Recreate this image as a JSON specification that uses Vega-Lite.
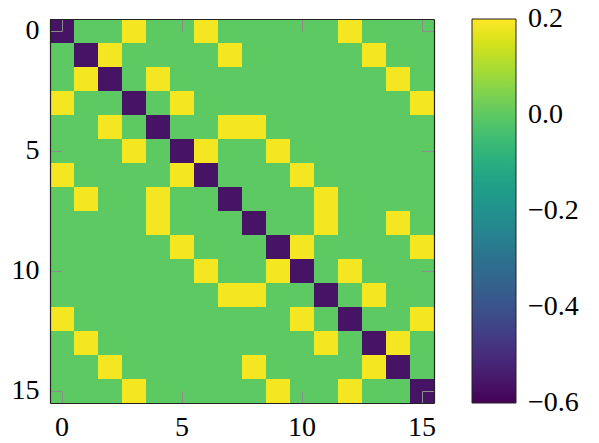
{
  "$schema": "https://vega.github.io/schema/vega-lite/v6.json",
  "width": 384,
  "height": 384,
  "autosize": {"type": "none"},
  "padding": {"left": 50, "top": 19, "right": 165, "bottom": 40},
  "background": "white",
  "config": {
    "view": {"stroke": null},
    "font": "Liberation Serif",
    "axis": {
      "labelFont": "Liberation Serif",
      "labelFontSize": 28,
      "labelColor": "#000",
      "tickColor": "#8c8c8c",
      "tickWidth": 1,
      "tickSize": -12,
      "domainColor": "#222",
      "domainWidth": 1.2,
      "grid": false,
      "title": null
    }
  },
  "data": {"values": [
    {"r":0,"c":0,"v":-0.5625},{"r":0,"c":1,"v":0},{"r":0,"c":2,"v":0},{"r":0,"c":3,"v":0.1875},{"r":0,"c":4,"v":0},{"r":0,"c":5,"v":0},{"r":0,"c":6,"v":0.1875},{"r":0,"c":7,"v":0},{"r":0,"c":8,"v":0},{"r":0,"c":9,"v":0},{"r":0,"c":10,"v":0},{"r":0,"c":11,"v":0},{"r":0,"c":12,"v":0.1875},{"r":0,"c":13,"v":0},{"r":0,"c":14,"v":0},{"r":0,"c":15,"v":0},
    {"r":1,"c":0,"v":0},{"r":1,"c":1,"v":-0.5625},{"r":1,"c":2,"v":0.1875},{"r":1,"c":3,"v":0},{"r":1,"c":4,"v":0},{"r":1,"c":5,"v":0},{"r":1,"c":6,"v":0},{"r":1,"c":7,"v":0.1875},{"r":1,"c":8,"v":0},{"r":1,"c":9,"v":0},{"r":1,"c":10,"v":0},{"r":1,"c":11,"v":0},{"r":1,"c":12,"v":0},{"r":1,"c":13,"v":0.1875},{"r":1,"c":14,"v":0},{"r":1,"c":15,"v":0},
    {"r":2,"c":0,"v":0},{"r":2,"c":1,"v":0.1875},{"r":2,"c":2,"v":-0.5625},{"r":2,"c":3,"v":0},{"r":2,"c":4,"v":0.1875},{"r":2,"c":5,"v":0},{"r":2,"c":6,"v":0},{"r":2,"c":7,"v":0},{"r":2,"c":8,"v":0},{"r":2,"c":9,"v":0},{"r":2,"c":10,"v":0},{"r":2,"c":11,"v":0},{"r":2,"c":12,"v":0},{"r":2,"c":13,"v":0},{"r":2,"c":14,"v":0.1875},{"r":2,"c":15,"v":0},
    {"r":3,"c":0,"v":0.1875},{"r":3,"c":1,"v":0},{"r":3,"c":2,"v":0},{"r":3,"c":3,"v":-0.5625},{"r":3,"c":4,"v":0},{"r":3,"c":5,"v":0.1875},{"r":3,"c":6,"v":0},{"r":3,"c":7,"v":0},{"r":3,"c":8,"v":0},{"r":3,"c":9,"v":0},{"r":3,"c":10,"v":0},{"r":3,"c":11,"v":0},{"r":3,"c":12,"v":0},{"r":3,"c":13,"v":0},{"r":3,"c":14,"v":0},{"r":3,"c":15,"v":0.1875},
    {"r":4,"c":0,"v":0},{"r":4,"c":1,"v":0},{"r":4,"c":2,"v":0.1875},{"r":4,"c":3,"v":0},{"r":4,"c":4,"v":-0.5625},{"r":4,"c":5,"v":0},{"r":4,"c":6,"v":0},{"r":4,"c":7,"v":0.1875},{"r":4,"c":8,"v":0.1875},{"r":4,"c":9,"v":0},{"r":4,"c":10,"v":0},{"r":4,"c":11,"v":0},{"r":4,"c":12,"v":0},{"r":4,"c":13,"v":0},{"r":4,"c":14,"v":0},{"r":4,"c":15,"v":0},
    {"r":5,"c":0,"v":0},{"r":5,"c":1,"v":0},{"r":5,"c":2,"v":0},{"r":5,"c":3,"v":0.1875},{"r":5,"c":4,"v":0},{"r":5,"c":5,"v":-0.5625},{"r":5,"c":6,"v":0.1875},{"r":5,"c":7,"v":0},{"r":5,"c":8,"v":0},{"r":5,"c":9,"v":0.1875},{"r":5,"c":10,"v":0},{"r":5,"c":11,"v":0},{"r":5,"c":12,"v":0},{"r":5,"c":13,"v":0},{"r":5,"c":14,"v":0},{"r":5,"c":15,"v":0},
    {"r":6,"c":0,"v":0.1875},{"r":6,"c":1,"v":0},{"r":6,"c":2,"v":0},{"r":6,"c":3,"v":0},{"r":6,"c":4,"v":0},{"r":6,"c":5,"v":0.1875},{"r":6,"c":6,"v":-0.5625},{"r":6,"c":7,"v":0},{"r":6,"c":8,"v":0},{"r":6,"c":9,"v":0},{"r":6,"c":10,"v":0.1875},{"r":6,"c":11,"v":0},{"r":6,"c":12,"v":0},{"r":6,"c":13,"v":0},{"r":6,"c":14,"v":0},{"r":6,"c":15,"v":0},
    {"r":7,"c":0,"v":0},{"r":7,"c":1,"v":0.1875},{"r":7,"c":2,"v":0},{"r":7,"c":3,"v":0},{"r":7,"c":4,"v":0.1875},{"r":7,"c":5,"v":0},{"r":7,"c":6,"v":0},{"r":7,"c":7,"v":-0.5625},{"r":7,"c":8,"v":0},{"r":7,"c":9,"v":0},{"r":7,"c":10,"v":0},{"r":7,"c":11,"v":0.1875},{"r":7,"c":12,"v":0},{"r":7,"c":13,"v":0},{"r":7,"c":14,"v":0},{"r":7,"c":15,"v":0},
    {"r":8,"c":0,"v":0},{"r":8,"c":1,"v":0},{"r":8,"c":2,"v":0},{"r":8,"c":3,"v":0},{"r":8,"c":4,"v":0.1875},{"r":8,"c":5,"v":0},{"r":8,"c":6,"v":0},{"r":8,"c":7,"v":0},{"r":8,"c":8,"v":-0.5625},{"r":8,"c":9,"v":0},{"r":8,"c":10,"v":0},{"r":8,"c":11,"v":0.1875},{"r":8,"c":12,"v":0},{"r":8,"c":13,"v":0},{"r":8,"c":14,"v":0.1875},{"r":8,"c":15,"v":0},
    {"r":9,"c":0,"v":0},{"r":9,"c":1,"v":0},{"r":9,"c":2,"v":0},{"r":9,"c":3,"v":0},{"r":9,"c":4,"v":0},{"r":9,"c":5,"v":0.1875},{"r":9,"c":6,"v":0},{"r":9,"c":7,"v":0},{"r":9,"c":8,"v":0},{"r":9,"c":9,"v":-0.5625},{"r":9,"c":10,"v":0.1875},{"r":9,"c":11,"v":0},{"r":9,"c":12,"v":0},{"r":9,"c":13,"v":0},{"r":9,"c":14,"v":0},{"r":9,"c":15,"v":0.1875},
    {"r":10,"c":0,"v":0},{"r":10,"c":1,"v":0},{"r":10,"c":2,"v":0},{"r":10,"c":3,"v":0},{"r":10,"c":4,"v":0},{"r":10,"c":5,"v":0},{"r":10,"c":6,"v":0.1875},{"r":10,"c":7,"v":0},{"r":10,"c":8,"v":0},{"r":10,"c":9,"v":0.1875},{"r":10,"c":10,"v":-0.5625},{"r":10,"c":11,"v":0},{"r":10,"c":12,"v":0.1875},{"r":10,"c":13,"v":0},{"r":10,"c":14,"v":0},{"r":10,"c":15,"v":0},
    {"r":11,"c":0,"v":0},{"r":11,"c":1,"v":0},{"r":11,"c":2,"v":0},{"r":11,"c":3,"v":0},{"r":11,"c":4,"v":0},{"r":11,"c":5,"v":0},{"r":11,"c":6,"v":0},{"r":11,"c":7,"v":0.1875},{"r":11,"c":8,"v":0.1875},{"r":11,"c":9,"v":0},{"r":11,"c":10,"v":0},{"r":11,"c":11,"v":-0.5625},{"r":11,"c":12,"v":0},{"r":11,"c":13,"v":0.1875},{"r":11,"c":14,"v":0},{"r":11,"c":15,"v":0},
    {"r":12,"c":0,"v":0.1875},{"r":12,"c":1,"v":0},{"r":12,"c":2,"v":0},{"r":12,"c":3,"v":0},{"r":12,"c":4,"v":0},{"r":12,"c":5,"v":0},{"r":12,"c":6,"v":0},{"r":12,"c":7,"v":0},{"r":12,"c":8,"v":0},{"r":12,"c":9,"v":0},{"r":12,"c":10,"v":0.1875},{"r":12,"c":11,"v":0},{"r":12,"c":12,"v":-0.5625},{"r":12,"c":13,"v":0},{"r":12,"c":14,"v":0},{"r":12,"c":15,"v":0.1875},
    {"r":13,"c":0,"v":0},{"r":13,"c":1,"v":0.1875},{"r":13,"c":2,"v":0},{"r":13,"c":3,"v":0},{"r":13,"c":4,"v":0},{"r":13,"c":5,"v":0},{"r":13,"c":6,"v":0},{"r":13,"c":7,"v":0},{"r":13,"c":8,"v":0},{"r":13,"c":9,"v":0},{"r":13,"c":10,"v":0},{"r":13,"c":11,"v":0.1875},{"r":13,"c":12,"v":0},{"r":13,"c":13,"v":-0.5625},{"r":13,"c":14,"v":0.1875},{"r":13,"c":15,"v":0},
    {"r":14,"c":0,"v":0},{"r":14,"c":1,"v":0},{"r":14,"c":2,"v":0.1875},{"r":14,"c":3,"v":0},{"r":14,"c":4,"v":0},{"r":14,"c":5,"v":0},{"r":14,"c":6,"v":0},{"r":14,"c":7,"v":0},{"r":14,"c":8,"v":0.1875},{"r":14,"c":9,"v":0},{"r":14,"c":10,"v":0},{"r":14,"c":11,"v":0},{"r":14,"c":12,"v":0},{"r":14,"c":13,"v":0.1875},{"r":14,"c":14,"v":-0.5625},{"r":14,"c":15,"v":0},
    {"r":15,"c":0,"v":0},{"r":15,"c":1,"v":0},{"r":15,"c":2,"v":0},{"r":15,"c":3,"v":0.1875},{"r":15,"c":4,"v":0},{"r":15,"c":5,"v":0},{"r":15,"c":6,"v":0},{"r":15,"c":7,"v":0},{"r":15,"c":8,"v":0},{"r":15,"c":9,"v":0.1875},{"r":15,"c":10,"v":0},{"r":15,"c":11,"v":0},{"r":15,"c":12,"v":0.1875},{"r":15,"c":13,"v":0},{"r":15,"c":14,"v":0},{"r":15,"c":15,"v":-0.5625}
  ]},
  "layer": [
    {
      "mark": {"type": "rect"},
      "encoding": {
        "x": {"field": "c", "type": "ordinal", "sort": "ascending",
              "scale": {"paddingInner": 0, "paddingOuter": 0},
              "axis": {"orient": "bottom", "values": [0, 5, 10, 15], "labelAngle": 0, "labelPadding": 22, "zindex": 1}},
        "y": {"field": "r", "type": "ordinal", "sort": "ascending",
              "scale": {"paddingInner": 0, "paddingOuter": 0},
              "axis": {"orient": "left", "values": [0, 5, 10, 15], "labelPadding": 23, "zindex": 1}},
        "color": {"field": "v", "type": "quantitative",
                  "scale": {"scheme": "viridis", "domain": [-0.6, 0.2], "nice": false},
                  "legend": {
                    "orient": "none", "legendX": 422, "legendY": 0,
                    "direction": "vertical", "title": null,
                    "gradientLength": 384, "gradientThickness": 44,
                    "gradientStrokeColor": "#222", "gradientStrokeWidth": 1,
                    "values": [-0.6, -0.4, -0.2, 0, 0.2], "format": ".1f",
                    "labelFont": "Liberation Serif", "labelFontSize": 28, "labelColor": "#000",
                    "labelOffset": 12, "labelOverlap": false,
                    "encode": {"labels": {"update": {"baseline": {"value": "middle"}}}}
                  }}
      }
    },
    {
      "mark": {"type": "rect", "opacity": 0},
      "encoding": {
        "x": {"field": "c", "type": "ordinal", "sort": "ascending",
              "axis": {"orient": "top", "values": [0, 5, 10, 15], "labels": false, "zindex": 1}},
        "y": {"field": "r", "type": "ordinal", "sort": "ascending",
              "axis": {"orient": "right", "values": [0, 5, 10, 15], "labels": false, "zindex": 1}}
      }
    }
  ],
  "resolve": {"axis": {"x": "independent", "y": "independent"}}
}
